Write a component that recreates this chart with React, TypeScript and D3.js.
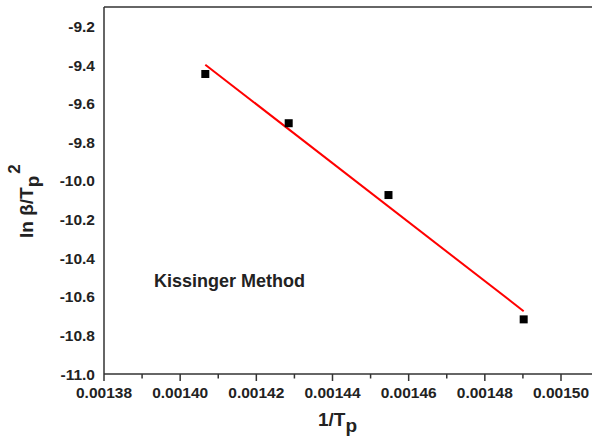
import React from "react";
import * as d3 from "d3";

const xValues = [0.0014066, 0.0014285, 0.0014547, 0.0014902];
const yValues = [-9.446, -9.701, -10.073, -10.717];
const xTicks = [0.00138, 0.0014, 0.00142, 0.00144, 0.00146, 0.00148, 0.0015];
const xMinorTicks = [0.00139, 0.00141, 0.00143, 0.00145, 0.00147, 0.00149];
const yTicks = [-11.0, -10.8, -10.6, -10.4, -10.2, -10.0, -9.8, -9.6, -9.4, -9.2];
const annotation = "Kissinger Method";

const W = 592;
const H = 437;
const FONT = "'Liberation Sans', Arial, sans-serif";

export default function App() {
  const x = d3.scaleLinear().domain([0.00138, 0.0015]).range([104, 561]);
  const y = d3.scaleLinear().domain([-11, -9.2]).range([374, 26.5]);
  const top = 7;
  const left = x(0.00138);
  const bottom = y(-11);

  // linear regression
  const n = xValues.length;
  const mx = d3.mean(xValues)!;
  const my = d3.mean(yValues)!;
  let sxy = 0,
    sxx = 0;
  for (let i = 0; i < n; i++) {
    sxy += (xValues[i] - mx) * (yValues[i] - my);
    sxx += (xValues[i] - mx) ** 2;
  }
  const slope = sxy / sxx;
  const icpt = my - slope * mx;
  const x0 = d3.min(xValues)!;
  const x1 = d3.max(xValues)!;
  const line = d3
    .line<number>()
    .x((v) => x(v))
    .y((v) => y(icpt + slope * v));

  const pts = xValues.map((v, i) => [v, yValues[i]]);

  return (
    <svg
      width={W}
      height={H}
      style={{ position: "absolute", left: 0, top: 0, background: "#fff" }}
      fontFamily={FONT}
    >
      <rect width={W} height={H} fill="#fff" />
      {/* frame */}
      <line x1={left} y1={top} x2={W + 5} y2={top} stroke="#333" strokeWidth={1.5} />
      <line x1={left} y1={top} x2={left} y2={bottom} stroke="#333" strokeWidth={1.5} />
      <line x1={left} y1={bottom} x2={W + 5} y2={bottom} stroke="#333" strokeWidth={1.5} />
      {/* x ticks */}
      {xTicks.map((t) => (
        <g key={"xt" + t}>
          <line x1={x(t)} x2={x(t)} y1={bottom} y2={bottom + 7} stroke="#333" strokeWidth={1.5} />
          <text
            x={x(t)}
            y={bottom + 24}
            textAnchor="middle"
            fontSize={15.5}
            fontWeight="bold"
            fill="#222"
          >
            {t.toFixed(5)}
          </text>
        </g>
      ))}
      {xMinorTicks.map((t) => (
        <line key={"xm" + t} x1={x(t)} x2={x(t)} y1={bottom} y2={bottom + 4.5} stroke="#333" strokeWidth={1.5} />
      ))}
      {/* y tick labels */}
      {yTicks.map((t) => (
        <text
          key={"yt" + t}
          x={left - 9}
          y={y(t) + 5.5}
          textAnchor="end"
          fontSize={15.5}
          fontWeight="bold"
          fill="#222"
        >
          {t.toFixed(1)}
        </text>
      ))}
      {/* regression line */}
      <path d={line([x0, x1]) || ""} stroke="#ff0000" strokeWidth={2} fill="none" />
      {/* points */}
      {pts.map(([a, b], i) => (
        <rect key={"p" + i} x={x(a) - 4} y={y(b) - 4} width={8} height={8} fill="#000" />
      ))}
      {/* annotation */}
      <text x={154} y={287} fontSize={18} fontWeight="bold" fill="#222">
        {annotation}
      </text>
      {/* x label */}
      <text x={318} y={426} fontSize={19} fontWeight="bold" fill="#222">
        1/T
        <tspan dy={6}>p</tspan>
      </text>
      {/* y label */}
      <text
        transform={`translate(33, 238) rotate(-90)`}
        fontSize={19}
        fontWeight="bold"
        fill="#222"
      >
        ln β/T
        <tspan dy={6}>p</tspan>
        <tspan dx={2} dy={-19} fontSize={17}>2</tspan>
      </text>
    </svg>
  );
}
